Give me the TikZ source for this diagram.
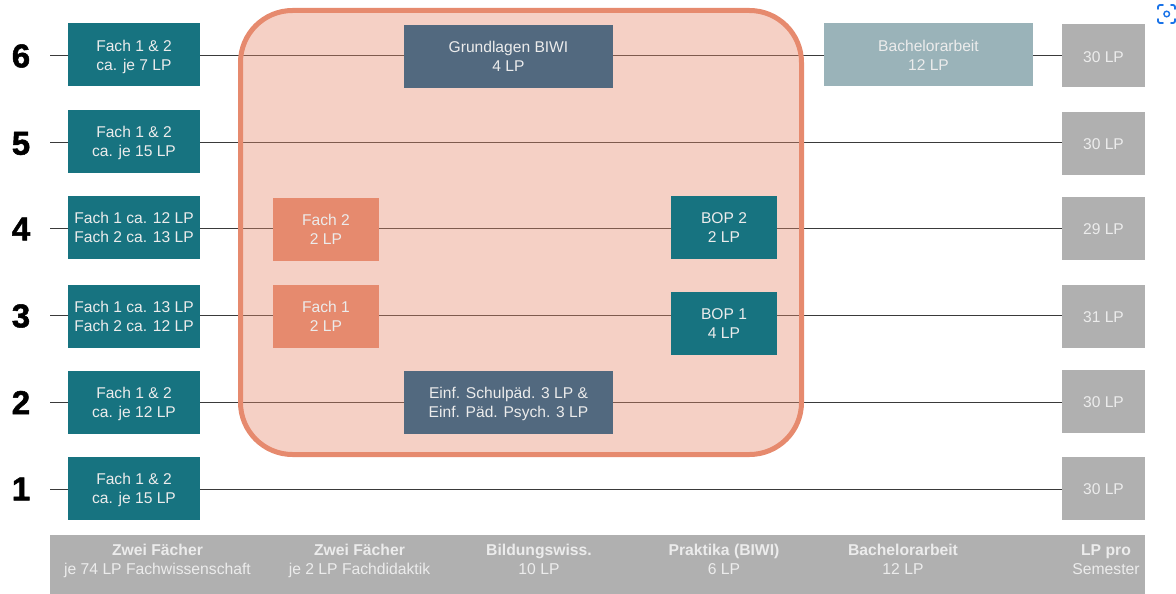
\documentclass[tikz,border=0pt]{standalone}
\usepackage{fontspec}
\setmainfont{Liberation Sans}
\newfontfamily\numfont{Liberation Sans Bold}[FakeBold=1.6]
\usetikzlibrary{backgrounds,calc}
\definecolor{teal1}{HTML}{177380}
\definecolor{slate}{HTML}{52697F}
\definecolor{pale}{HTML}{9AB3B9}
\definecolor{grayb}{HTML}{B0B0B0}
\definecolor{coral}{HTML}{E68A6E}
\definecolor{fg}{HTML}{ECECEC}
\definecolor{linec}{HTML}{3A3A3A}
\definecolor{lens}{HTML}{1A73E8}
\tikzset{
 x=1pt,y=-1pt,
 box/.style={draw=none,inner sep=0pt,text=fg,align=center,font=\fontsize{15.6}{19}\selectfont},
 fach/.style={box,fill=teal1,minimum width=132pt,minimum height=63pt},
 biwi/.style={box,fill=slate,minimum width=209pt,minimum height=63pt},
 did/.style={box,fill=coral,minimum width=106pt,minimum height=63pt},
 bop/.style={box,fill=teal1,minimum width=106pt,minimum height=63pt},
 lpbox/.style={box,fill=grayb,minimum width=83pt,minimum height=63pt,text height=12.6pt,text depth=0pt},
 semnum/.style={inner sep=0pt,font=\fontsize{33}{33}\numfont},
 foot/.style={inner sep=0pt,text=fg,align=center,font=\fontsize{15.7}{19}\selectfont},
 rowline/.style={draw=linec,line width=1.5pt},
}
\begin{document}
\begin{tikzpicture}
\useasboundingbox (0,0) rectangle (1176,594);
\fill[coral,fill opacity=0.4,rounded corners=52pt] (240.5,10.5) rectangle (801.5,454.5);
\draw[coral,line width=5pt,rounded corners=52pt] (240.5,10.5) rectangle (801.5,454.5);

\node[semnum] (n6) at (21,56) {6};
\node[semnum] (n5) at (21,143.5) {5};
\node[semnum] (n4) at (21,229) {4};
\node[semnum] (n3) at (21,316) {3};
\node[semnum] (n2) at (21,402.5) {2};
\node[semnum] (n1) at (21,489) {1};

\node[fach] (f6) at (134,55) {Fach 1 \& 2\\\smash{ca. je 7 LP}};
\node[fach] (f5) at (134,141.5) {Fach 1 \& 2\\\smash{ca. je 15 LP}};
\node[fach] (f4) at (134,227.5) {Fach 1 ca. 12 LP\\Fach 2 ca. 13 LP};
\node[fach] (f3) at (134,316.5) {Fach 1 ca. 13 LP\\Fach 2 ca. 12 LP};
\node[fach] (f2) at (134,402) {Fach 1 \& 2\\\smash{ca. je 12 LP}};
\node[fach] (f1) at (134,488.5) {Fach 1 \& 2\\\smash{ca. je 15 LP}};

\node[biwi] (gb) at (508.5,56.5) {Grundlagen BIWI\\4 LP};
\node[biwi] (es) at (508.5,402) {Einf. Schulpäd. 3 LP \&\\\smash{Einf. Päd. Psych. 3 LP}};
\node[did] (d2) at (326,229.5) {Fach 2\\2 LP};
\node[did] (d1) at (326,316.5) {Fach 1\\2 LP};
\node[bop] (b2) at (724,227.5) {BOP 2\\2 LP};
\node[bop] (b1) at (724,323.5) {BOP 1\\4 LP};
\node[box,fill=pale,minimum width=209pt,minimum height=63pt] (ba) at (928.5,55) {Bachelorarbeit\\12 LP};

\node[lpbox] (r6) at (1103.5,56) {30 LP};
\node[lpbox] (r5) at (1103.5,143.5) {30 LP};
\node[lpbox] (r4) at (1103.5,228.5) {29 LP};
\node[lpbox] (r3) at (1103.5,316.5) {31 LP};
\node[lpbox] (r2) at (1103.5,401.5) {30 LP};
\node[lpbox] (r1) at (1103.5,488) {30 LP};

\fill[grayb] (50,535) rectangle (1145,594);
\node[foot] (c1) at (157.5,559.5) {\textbf{Zwei Fächer}\\\smash{je 74 LP Fachwissenschaft}};
\node[foot] (c2) at (359.5,559.5) {\textbf{Zwei Fächer}\\\smash{je 2 LP Fachdidaktik}};
\node[foot] (c3) at (539,559.5) {\textbf{Bildungswiss.}\\10 LP};
\node[foot] (c4) at (724,559.5) {\textbf{Praktika (BIWI)}\\6 LP};
\node[foot] (c5) at (903,559.5) {\textbf{Bachelorarbeit}\\12 LP};
\node[foot] (c6) at (1106,559.5) {\textbf{LP pro}\\Semester};

\coordinate (s6) at (50,55.3);
\coordinate (s5) at (50,142.3);
\coordinate (s4) at (50,228.7);
\coordinate (s3) at (50,315.7);
\coordinate (s2) at (50,402.4);
\coordinate (s1) at (50,489.3);
\begin{scope}[on background layer]
\foreach \i in {1,...,6}{
  \draw[rowline] (s\i) -- (s\i -| r\i.west);
}
\end{scope}
% screenshot icon
\fill[white] (1167,14) circle (19.5);
\draw[lens,line width=1.8pt,line cap=round,rounded corners=2pt]
  (1158,9) -- (1158,5) -- (1163,5) (1171,5) -- (1175,5) -- (1175,9)
  (1175,19) -- (1175,23) -- (1171,23) (1163,23) -- (1158,23) -- (1158,19);
\draw[lens,line width=1.4pt] (1166.7,14) circle (2.8);
\end{tikzpicture}
\end{document}
